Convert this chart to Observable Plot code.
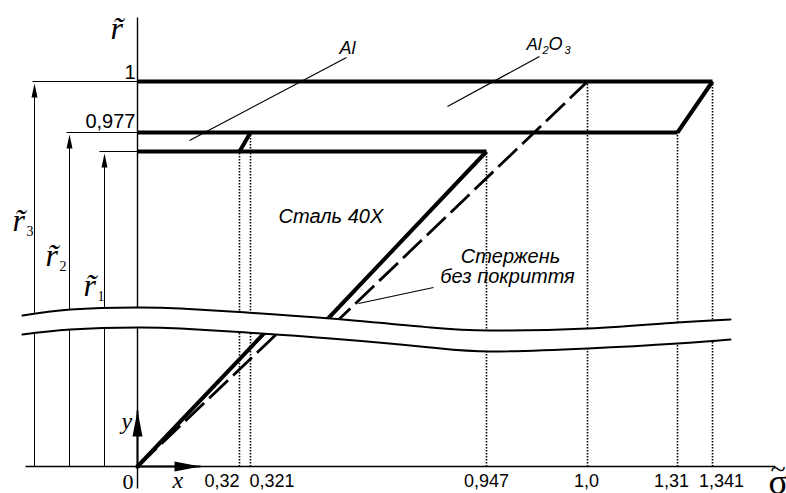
<!DOCTYPE html>
<html><head><meta charset="utf-8">
<script src="https://cdn.jsdelivr.net/npm/d3@7"></script>
<script src="https://cdn.jsdelivr.net/npm/@observablehq/plot@0.6"></script>
<style>body{margin:0;background:#fff}svg{display:block}</style>
</head><body><div id="chart"></div>
<script>
// ---- Data (schematic drawing units: origin at axes crossing, x right, y up) ----
const xTickLabels = ["0,32", "0,321", "0,947", "1,0", "1,31", "1,341"];
const xTickPos    = [102, 113, 349, 450, 540, 575];
const xTickTop    = [315, 334, 315, 385, 334, 385];
const levelLabels = ["1", "0,977"];
const levelPos    = [385, 334, 315];   // r3 = 1, r2 = 0,977, r1
const levelEnd    = [575, 540, 349];
const dimNames    = ["3", "2", "1"];   // subscripts of r~
const dimX        = [-103, -68, -33];
const dimLineStart = [-105, -71, -38];
// break band (wavy cut)
const breakX      = [-115, -67, 0, 43, 93, 193, 293, 353, 450, 540, 593];
const breakUpper  = [151, 157, 159, 158, 155, 148, 139, 136, 138, 144, 147];
const breakLower  = [132, 137, 139, 138, 135, 128, 119, 115, 118, 123, 127];
// diagram segments: [x1, y1, x2, y2]
const steelSegs   = [[0, 0, 135, 142], [183, 140, 349, 315]];
const rodSegs     = [[0, 0, 147, 140], [194, 140, 450, 385]];
const coatSegs    = [[102, 315, 113, 334], [540, 334, 575, 385]];
const leaderSegs  = [[52, 326, 209, 409], [310, 360, 402, 410], [221, 163, 296, 179]];

// ---- Tables built from the arrays ----
const levels = levelPos.map((y, i) => ({y, end: levelEnd[i]}));
const ticks = xTickPos.map((x, i) => ({x, top: xTickTop[i], label: xTickLabels[i]}));
const dims = dimX.map((x, i) => ({x, top: levelPos[i], start: dimLineStart[i], name: dimNames[i]}));
const band = breakX.map((x, i) => ({x, y1: breakUpper[i], y2: breakLower[i]}));
const seg = (a) => a.map(([x1, y1, x2, y2]) => ({x1, y1, x2, y2}));

// ---- Layout for labels ----
const tickLabelX = [102, 112, 349, 449, 534, 584];
const tickAnchor = ["end", "start", "middle", "middle", "middle", "middle"];
const tickLabels = ticks.map((d, i) => ({x: tickLabelX[i], y: -20, t: d.label, a: tickAnchor[i]}));
const levelText = [{x: -2, y: 388, t: levelLabels[0]}, {x: -2, y: 339, t: levelLabels[1]}];
const rPos = [[-125, 236], [-92, 201], [-54, 171]];
const rText = rPos.map(([x, y]) => ({x, y, t: "r\u0303"})).concat([{x: -27, y: 428, t: "r\u0303"}]);
const rSub = rPos.map(([x, y], i) => ({x: x + 14, y: y - 5, t: dimNames[i]}));
const labelsStart = [
  {x: 202, y: 413, t: "Al", s: 18},
  {x: 389, y: 417, t: "Al", s: 17},
  {x: 411, y: 417, t: "O", s: 18},
  {x: 141, y: 244, t: "Сталь 40X", s: 20}
];
const labelsMiddle = [
  {x: 373, y: 204, t: "Стержень"},
  {x: 370, y: 184, t: "без покриття"}
];
const labelsSub = [{x: 405, y: 413, t: "2"}, {x: 427, y: 413, t: "3"}];
const axisNames = [{x: 35, y: -21, t: "x"}, {x: -16, y: 38, t: "y"}];

const headSmall = {draw(c) { c.moveTo(0, 0); c.lineTo(-3, 14); c.lineTo(3, 14); c.closePath(); }};
const headBig = {draw(c) { c.moveTo(0, 0); c.lineTo(-5, 26); c.lineTo(5, 26); c.closePath(); }};

const SANS = "Liberation Sans, Arial, sans-serif";
const SERIF = "Liberation Serif, Times New Roman, serif";
const txt = (data, anchor, o) => Plot.text(data, {x: "x", y: "y", text: "t", textAnchor: anchor, lineAnchor: "bottom", fill: "#000", ...o});

const chart = Plot.plot({
  width: 786, height: 493,
  marginTop: 0, marginRight: 0, marginBottom: 0, marginLeft: 0,
  x: {domain: [-137, 649], axis: null},
  y: {domain: [-27, 466], axis: null},
  style: {background: "#fff"},
  marks: [
    // axes
    Plot.link([{x1: 0, y1: 449, x2: 0, y2: -22}], {x1: "x1", y1: "y1", x2: "x2", y2: "y2", stroke: "#000", strokeWidth: 1.4}),
    Plot.link([{x1: -112, y1: 0, x2: 638, y2: 0}], {x1: "x1", y1: "y1", x2: "x2", y2: "y2", stroke: "#000", strokeWidth: 1.4}),
    Plot.link([{x1: 0, y1: 0, x2: 63, y2: 0}], {x1: "x1", y1: "y1", x2: "x2", y2: "y2", stroke: "#000", strokeWidth: 2}),
    Plot.link([{x1: 0, y1: 0, x2: 0, y2: 56}], {x1: "x1", y1: "y1", x2: "x2", y2: "y2", stroke: "#000", strokeWidth: 2}),
    // dotted projections
    Plot.link(ticks, {x1: "x", x2: "x", y1: 0, y2: "top", stroke: "#000", strokeWidth: 1.6, strokeDasharray: "1.6 1.4"}),
    // dimension lines
    Plot.link(dims, {x1: "start", x2: 0, y1: "top", y2: "top", stroke: "#000", strokeWidth: 1}),
    Plot.link(dims, {x1: "x", x2: "x", y1: 0, y2: (d) => d.top - 10, stroke: "#000", strokeWidth: 1}),
    // thick level lines
    Plot.link(levels, {x1: 0, x2: "end", y1: "y", y2: "y", stroke: "#000", strokeWidth: 4.2}),
    // coating slopes and steel
    Plot.link(seg(coatSegs), {x1: "x1", y1: "y1", x2: "x2", y2: "y2", stroke: "#000", strokeWidth: 4}),
    Plot.link(seg(steelSegs), {x1: "x1", y1: "y1", x2: "x2", y2: "y2", stroke: "#000", strokeWidth: 4}),
    Plot.link(seg(rodSegs), {x1: "x1", y1: "y1", x2: "x2", y2: "y2", stroke: "#000", strokeWidth: 2.8, strokeDasharray: "26 7"}),
    // leaders
    Plot.link(seg(leaderSegs), {x1: "x1", y1: "y1", x2: "x2", y2: "y2", stroke: "#000", strokeWidth: 1.2}),
    // break band
    Plot.areaY(band, {x: "x", y1: "y1", y2: "y2", fill: "#fff", curve: "natural"}),
    Plot.line(band, {x: "x", y: "y1", stroke: "#000", strokeWidth: 2, curve: "natural"}),
    Plot.line(band, {x: "x", y: "y2", stroke: "#000", strokeWidth: 2, curve: "natural"}),
    // arrowheads
    Plot.dot(dims, {x: "x", y: (d) => d.top - 2, symbol: headSmall, fill: "#000", stroke: null}),
    Plot.dot([{x: 0, y: 56}], {x: "x", y: "y", symbol: headBig, fill: "#000", stroke: null}),
    Plot.dot([{x: 63, y: 0}], {x: "x", y: "y", symbol: headBig, fill: "#000", stroke: null, rotate: 90}),
    Plot.dot([{x: 0, y: 0}], {x: "x", y: "y", r: 2.2, fill: "#000", stroke: null}),
    // tick labels
    txt(tickLabels.filter((d) => d.a === "end"), "end", {fontFamily: SANS, fontSize: 18}),
    txt(tickLabels.filter((d) => d.a === "start"), "start", {fontFamily: SANS, fontSize: 18}),
    txt(tickLabels.filter((d) => d.a === "middle"), "middle", {fontFamily: SANS, fontSize: 18}),
    txt(levelText, "end", {fontFamily: SANS, fontSize: 20}),
    // annotations
    txt(labelsStart, "start", {fontFamily: SANS, fontStyle: "italic", fontSize: (d) => d.s}),
    txt(labelsMiddle, "middle", {fontFamily: SANS, fontStyle: "italic", fontSize: 20}),
    txt(labelsSub, "start", {fontFamily: SANS, fontStyle: "italic", fontSize: 11}),
    // r~ symbols
    txt(rText, "start", {fontFamily: SERIF, fontStyle: "italic", fontSize: 32}),
    txt(rSub, "start", {fontFamily: SERIF, fontSize: 14}),
    txt(axisNames, "start", {fontFamily: SERIF, fontStyle: "italic", fontSize: 24}),
    txt([{x: -4, y: -22, t: "0"}], "end", {fontFamily: SERIF, fontSize: 22}),
    txt([{x: 631, y: -27, t: "\u03C3"}], "start", {fontFamily: SERIF, fontSize: 36}),
    txt([{x: 633, y: -11, t: "~"}], "start", {fontFamily: SERIF, fontSize: 28})
  ]
});
document.getElementById("chart").append(chart);
</script>
</body></html>
